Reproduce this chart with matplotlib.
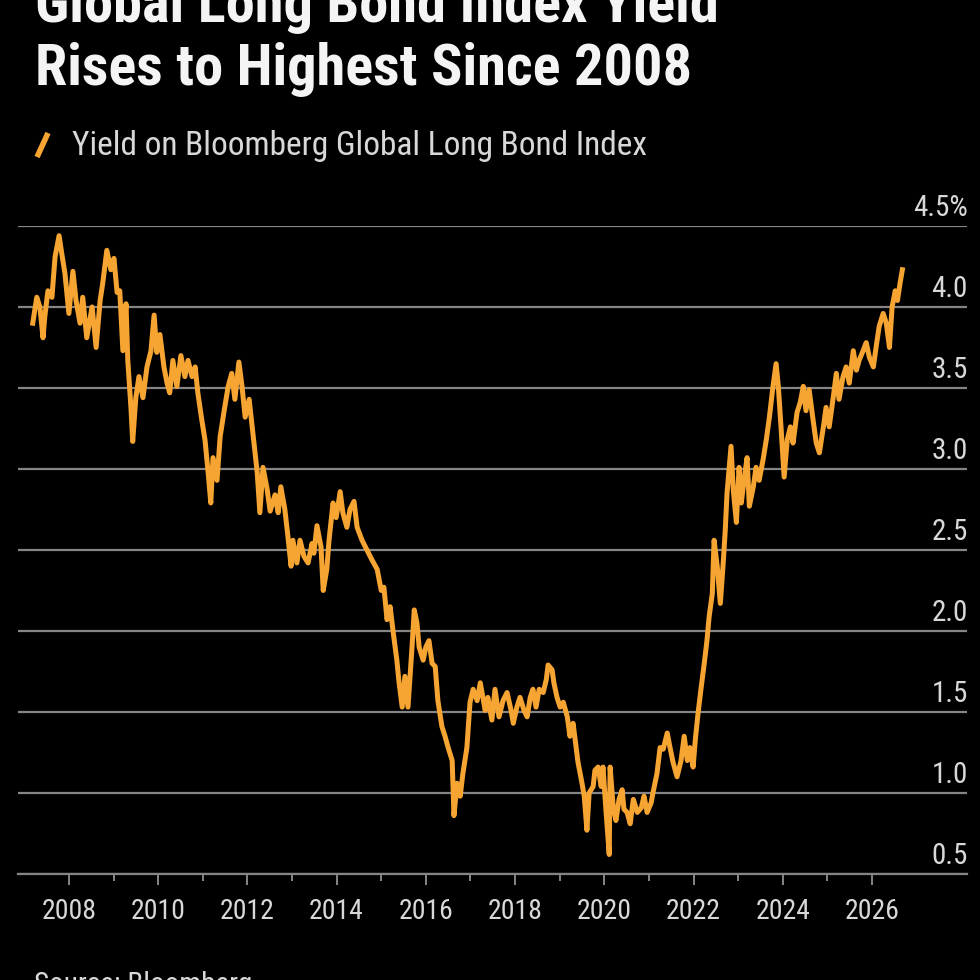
import os
import matplotlib
matplotlib.use("Agg")
import matplotlib.pyplot as plt
from matplotlib import font_manager as fm
from matplotlib.lines import Line2D
from matplotlib.ticker import FixedLocator
from matplotlib.transforms import ScaledTranslation

# ---- chart text ----
title_lines = ["Global Long Bond Index Yield", "Rises to Highest Since 2008"]
legend_label = "Yield on Bloomberg Global Long Bond Index"
source_text = "Source: Bloomberg"

# ---- series (decimal year, yield in %) ----
years = [
    2007.19, 2007.28, 2007.35, 2007.42, 2007.46, 2007.53, 2007.62, 2007.69, 2007.78, 2007.84,
    2007.91, 2008.00, 2008.09, 2008.16, 2008.25, 2008.31, 2008.40, 2008.52, 2008.61, 2008.70,
    2008.76, 2008.85, 2008.94, 2009.01, 2009.08, 2009.14, 2009.21, 2009.28, 2009.32, 2009.39,
    2009.43, 2009.50, 2009.57, 2009.66, 2009.75, 2009.84, 2009.91, 2009.97, 2010.04, 2010.13,
    2010.20, 2010.26, 2010.33, 2010.42, 2010.51, 2010.60, 2010.67, 2010.76, 2010.83, 2010.89,
    2010.98, 2011.05, 2011.12, 2011.18, 2011.23, 2011.32, 2011.39, 2011.48, 2011.57, 2011.65,
    2011.72, 2011.81, 2011.88, 2011.95, 2012.04, 2012.10, 2012.17, 2012.22, 2012.28, 2012.35,
    2012.44, 2012.51, 2012.62, 2012.69, 2012.75, 2012.84, 2012.91, 2012.98, 2013.02, 2013.11,
    2013.18, 2013.27, 2013.36, 2013.45, 2013.49, 2013.56, 2013.65, 2013.70, 2013.78, 2013.83,
    2013.92, 2013.99, 2014.08, 2014.14, 2014.23, 2014.30, 2014.39, 2014.46, 2014.57, 2014.68,
    2014.79, 2014.91, 2015.00, 2015.06, 2015.13, 2015.20, 2015.26, 2015.35, 2015.40, 2015.47,
    2015.53, 2015.60, 2015.69, 2015.74, 2015.80, 2015.85, 2015.94, 2016.00, 2016.07, 2016.14,
    2016.21, 2016.27, 2016.36, 2016.43, 2016.50, 2016.59, 2016.63, 2016.70, 2016.77, 2016.83,
    2016.92, 2016.99, 2017.06, 2017.15, 2017.22, 2017.33, 2017.39, 2017.48, 2017.55, 2017.64,
    2017.73, 2017.82, 2017.91, 2017.96, 2018.04, 2018.11, 2018.20, 2018.27, 2018.34, 2018.40,
    2018.47, 2018.54, 2018.63, 2018.70, 2018.74, 2018.83, 2018.87, 2018.94, 2019.01, 2019.08,
    2019.17, 2019.23, 2019.30, 2019.37, 2019.41, 2019.50, 2019.55, 2019.61, 2019.66, 2019.75,
    2019.79, 2019.86, 2019.93, 2019.97, 2020.04, 2020.11, 2020.13, 2020.20, 2020.26, 2020.33,
    2020.40, 2020.44, 2020.51, 2020.58, 2020.65, 2020.74, 2020.83, 2020.89, 2020.96, 2021.05,
    2021.09, 2021.18, 2021.25, 2021.32, 2021.41, 2021.48, 2021.54, 2021.63, 2021.72, 2021.79,
    2021.86, 2021.92, 2021.99, 2022.04, 2022.10, 2022.17, 2022.24, 2022.30, 2022.35, 2022.42,
    2022.46, 2022.53, 2022.60, 2022.66, 2022.71, 2022.75, 2022.84, 2022.89, 2022.96, 2023.02,
    2023.07, 2023.13, 2023.20, 2023.25, 2023.34, 2023.40, 2023.47, 2023.56, 2023.63, 2023.70,
    2023.78, 2023.85, 2023.90, 2023.96, 2024.03, 2024.10, 2024.17, 2024.23, 2024.32, 2024.39,
    2024.46, 2024.52, 2024.59, 2024.68, 2024.75, 2024.82, 2024.91, 2024.97, 2025.04, 2025.13,
    2025.20, 2025.26, 2025.35, 2025.42, 2025.49, 2025.58, 2025.65, 2025.71, 2025.80, 2025.87,
    2025.94, 2026.03, 2026.09, 2026.16, 2026.25, 2026.32, 2026.39, 2026.45, 2026.52, 2026.57,
    2026.63, 2026.68,
]
yields = [
    3.90, 4.06, 4.00, 3.81, 3.94, 4.10, 4.06, 4.31, 4.44, 4.33,
    4.21, 3.96, 4.22, 4.04, 3.90, 4.06, 3.81, 4.00, 3.75, 4.04,
    4.15, 4.35, 4.23, 4.30, 4.09, 4.10, 3.73, 4.02, 3.67, 3.38,
    3.17, 3.44, 3.57, 3.44, 3.63, 3.73, 3.95, 3.72, 3.83, 3.63,
    3.53, 3.47, 3.67, 3.51, 3.70, 3.57, 3.67, 3.57, 3.63, 3.47,
    3.30, 3.18, 2.98, 2.79, 3.07, 2.93, 3.20, 3.36, 3.51, 3.59,
    3.43, 3.66, 3.51, 3.32, 3.43, 3.28, 3.10, 2.98, 2.73, 3.01,
    2.88, 2.74, 2.84, 2.73, 2.89, 2.75, 2.58, 2.40, 2.56, 2.42,
    2.56, 2.46, 2.42, 2.54, 2.48, 2.65, 2.52, 2.25, 2.38, 2.56,
    2.79, 2.70, 2.86, 2.73, 2.64, 2.75, 2.80, 2.64, 2.56, 2.50,
    2.44, 2.38, 2.25, 2.27, 2.07, 2.15, 2.01, 1.82, 1.68, 1.53,
    1.72, 1.53, 1.90, 2.13, 2.05, 1.90, 1.82, 1.90, 1.94, 1.80,
    1.78, 1.57, 1.41, 1.35, 1.28, 1.20, 0.86, 1.06, 0.98, 1.12,
    1.28, 1.56, 1.64, 1.57, 1.68, 1.51, 1.59, 1.45, 1.64, 1.47,
    1.57, 1.62, 1.51, 1.43, 1.53, 1.59, 1.51, 1.47, 1.59, 1.64,
    1.53, 1.64, 1.62, 1.70, 1.79, 1.76, 1.68, 1.59, 1.53, 1.56,
    1.47, 1.35, 1.43, 1.28, 1.19, 1.06, 0.98, 0.77, 1.00, 1.04,
    1.14, 1.16, 1.04, 1.16, 0.88, 0.62, 1.16, 0.91, 0.83, 0.96,
    1.02, 0.90, 0.88, 0.81, 0.96, 0.88, 0.91, 0.98, 0.88, 0.94,
    1.00, 1.12, 1.28, 1.27, 1.37, 1.27, 1.19, 1.10, 1.20, 1.35,
    1.20, 1.28, 1.16, 1.33, 1.49, 1.65, 1.80, 1.94, 2.09, 2.23,
    2.56, 2.40, 2.17, 2.40, 2.62, 2.85, 3.14, 2.87, 2.67, 3.01,
    2.79, 2.93, 3.07, 2.77, 2.89, 3.01, 2.93, 3.06, 3.18, 3.32,
    3.51, 3.65, 3.51, 3.26, 2.95, 3.18, 3.26, 3.16, 3.35, 3.41,
    3.51, 3.36, 3.49, 3.30, 3.16, 3.10, 3.26, 3.38, 3.26, 3.44,
    3.59, 3.43, 3.57, 3.63, 3.53, 3.73, 3.61, 3.67, 3.73, 3.78,
    3.69, 3.63, 3.75, 3.88, 3.96, 3.90, 3.75, 4.00, 4.10, 4.04,
    4.15, 4.23,
]

y_ticks = [0.5, 1.0, 1.5, 2.0, 2.5, 3.0, 3.5, 4.0, 4.5]
y_tick_labels = ["0.5", "1.0", "1.5", "2.0", "2.5", "3.0", "3.5", "4.0", "4.5%"]
x_major = list(range(2008, 2027, 2))
x_minor = list(range(2009, 2026, 2))

LINE_COLOR = "#f7a532"
GRID_COLOR = "#858585"
TEXT_COLOR = "#d8d8d8"


def find_font(candidates, fallback_weight):
    files = {os.path.basename(f.fname): f.fname for f in fm.fontManager.ttflist}
    for name in candidates:
        if name in files:
            return fm.FontProperties(fname=files[name])
    return fm.FontProperties(family="Roboto", weight=fallback_weight)


# Bloomberg uses a narrow face; Roboto Condensed is the closest one installed
regular_font = find_font(["RobotoCondensed-Regular.ttf", "LiberationSansNarrow-Regular.ttf",
                          "DejaVuSansCondensed.ttf"], "normal")
bold_font = find_font(["RobotoCondensed-Bold.ttf", "LiberationSansNarrow-Bold.ttf",
                       "DejaVuSansCondensed-Bold.ttf"], "bold")

fig = plt.figure(figsize=(9.8, 9.8), dpi=100, facecolor="black")
ax = fig.add_axes([0.0184, 0.1082, 0.9684, 0.6612])
ax.set_facecolor("black")

ax.plot(years, yields, color=LINE_COLOR, linewidth=3.6, solid_joinstyle="round", zorder=3)

ax.set_xlim(2006.86, 2028.13)
ax.set_ylim(0.5, 4.5)

# horizontal grid only
ax.set_yticks(y_ticks, y_tick_labels)
ax.yaxis.grid(True, color=GRID_COLOR, linewidth=1.6)
ax.xaxis.grid(False)
ax.set_axisbelow(True)

for side in ["top", "left", "right"]:
    ax.spines[side].set_visible(False)
ax.spines["bottom"].set_color(GRID_COLOR)
ax.spines["bottom"].set_linewidth(1.6)

ax.xaxis.set_major_locator(FixedLocator(x_major))
ax.xaxis.set_minor_locator(FixedLocator(x_minor))
ax.set_xticklabels([str(y) for y in x_major])
ax.tick_params(axis="x", which="major", length=8, width=1.4, color=GRID_COLOR,
               pad=9, labelcolor=TEXT_COLOR)
ax.tick_params(axis="x", which="minor", length=5, width=1.4, color=GRID_COLOR)
for lbl in ax.get_xticklabels():
    lbl.set_fontproperties(regular_font)
    lbl.set_fontsize(20)

# y labels on the right, sitting above their gridlines
ax.tick_params(axis="y", which="both", left=False, right=False,
               labelleft=False, labelright=True, pad=-3, labelcolor=TEXT_COLOR)
lift = ScaledTranslation(0, 10 / 100, fig.dpi_scale_trans)
for tick in ax.yaxis.get_major_ticks():
    lab = tick.label2
    lab.set_fontproperties(regular_font)
    lab.set_fontsize(21)
    lab.set_horizontalalignment("right")
    lab.set_verticalalignment("baseline")
    lab.set_transform(lab.get_transform() + lift)

# titles (first line runs off the top edge, as in the source image)
fig.text(0.0357, 1 - 22 / 980, title_lines[0], color="#f4f4f4",
         fontproperties=bold_font, fontsize=42, va="baseline")
fig.text(0.0357, 1 - 85 / 980, title_lines[1], color="#f4f4f4",
         fontproperties=bold_font, fontsize=42, va="baseline")

# legend: orange slash + label
fig.add_artist(Line2D([0.0378, 0.0490], [1 - 157 / 980, 1 - 133 / 980],
                      transform=fig.transFigure, color=LINE_COLOR, linewidth=4,
                      solid_capstyle="butt"))
fig.text(0.0735, 1 - 155 / 980, legend_label, color=TEXT_COLOR,
         fontproperties=regular_font, fontsize=24, va="baseline")

# source line, cut off by the bottom edge
fig.text(0.035, 1 - 971 / 980, source_text, color=TEXT_COLOR,
         fontproperties=regular_font, fontsize=21, va="top")

fig.savefig("out.png", dpi=100, facecolor="black")
